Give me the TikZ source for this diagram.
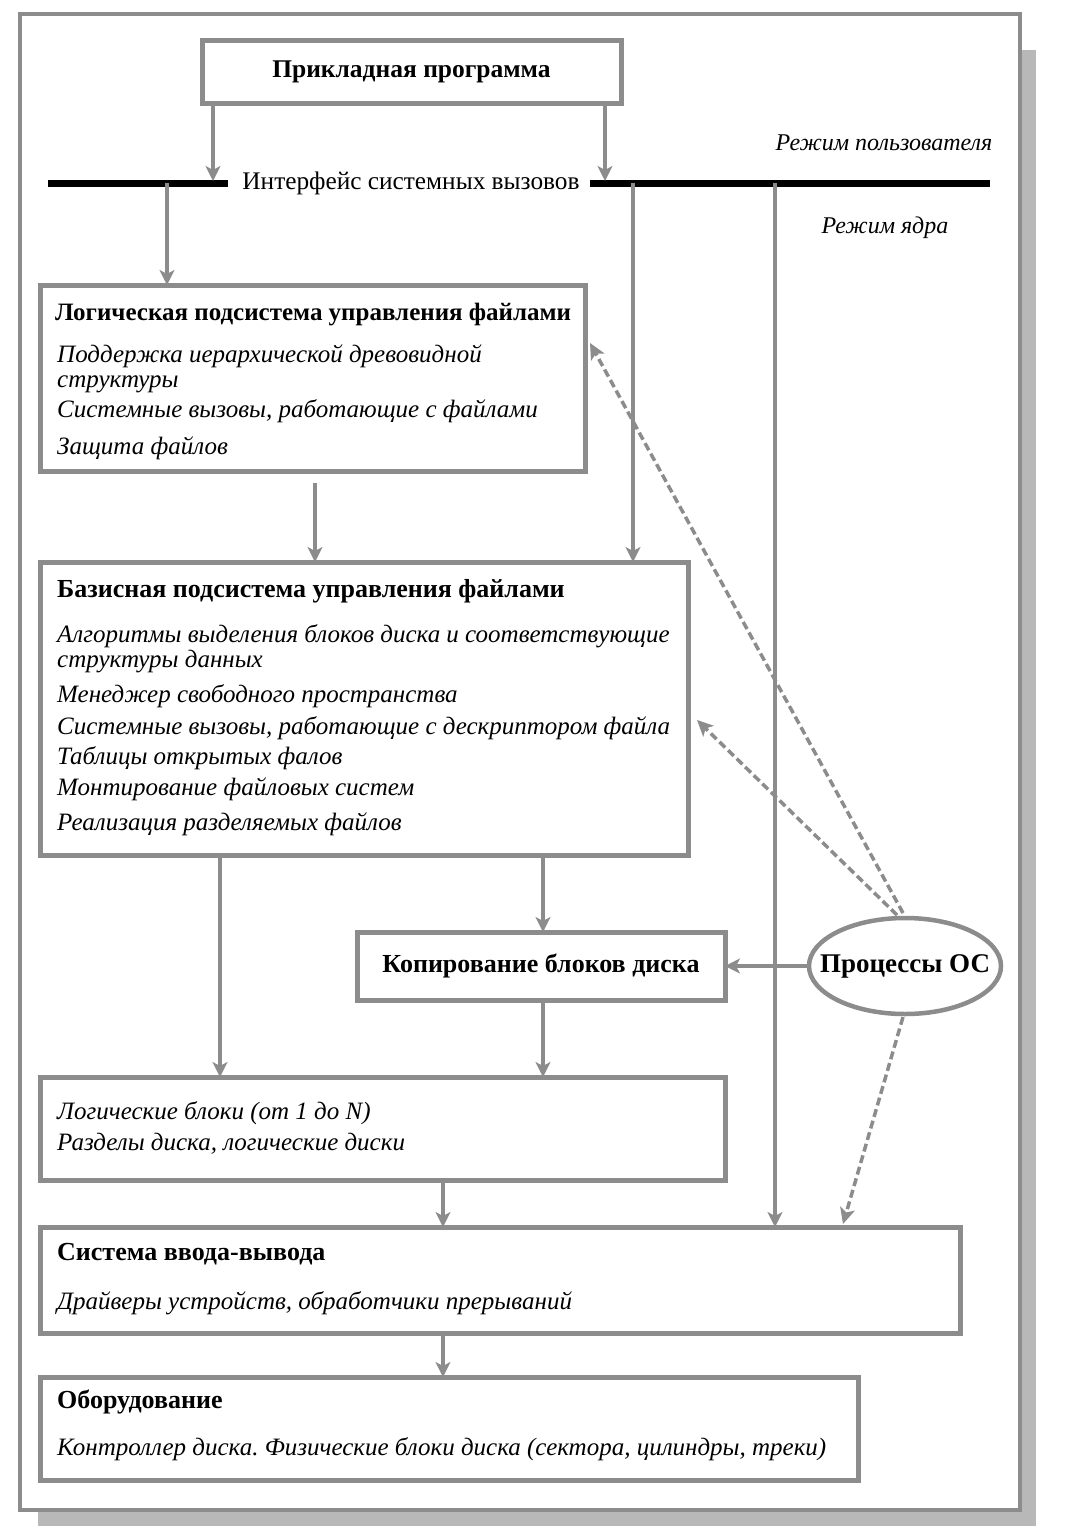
\documentclass[tikz,border=0pt]{standalone}
\usepackage{fontspec}
\setmainfont{Liberation Serif}
\usetikzlibrary{arrows.meta,shapes.geometric}
\definecolor{lg}{HTML}{8C8C8C}
\definecolor{sh}{HTML}{B8B8B8}
\frenchspacing
\begin{document}
\begin{tikzpicture}[x=1pt,y=-1pt,
  box/.style={draw=lg, line width=5pt, fill=white, inner sep=0pt, outer sep=0pt, anchor=north west},
  conn/.style={draw=lg, line width=4pt, -{Stealth[length=15pt,width=15pt,inset=4pt]}},
  dconn/.style={draw=lg, line width=3.5pt, dash pattern=on 8pt off 4pt, -{Stealth[length=16pt,width=15pt,inset=4pt]}},
  ttl/.style={anchor=base west, font=\fontsize{26}{30}\selectfont\bfseries, inner sep=0pt},
  itm/.style={anchor=base west, font=\fontsize{25}{28}\selectfont\itshape, inner sep=0pt},
  mode/.style={font=\fontsize{24}{28}\selectfont\itshape, inner sep=0pt},
  bus/.style={line width=7pt, black}
]
\useasboundingbox (0,0) rectangle (1070,1526);
% frame with shadow
\fill[sh] (1022,50) rectangle (1036,1526);
\fill[sh] (38,1512) rectangle (1036,1526);
\draw[lg, line width=4.5pt] (20,14) rectangle (1020,1510);

% boxes
\node[box, minimum width=419pt, minimum height=63pt] (app) at (202,40) {};
\node[font=\fontsize{25.5}{28}\selectfont\bfseries] (apptxt) at (app.center) {Прикладная программа};

\node[box, minimum width=545pt, minimum height=186pt] (logic) at (40,285) {};
\node[box, minimum width=648pt, minimum height=293pt] (basic) at (40,562) {};
\node[box, minimum width=368pt, minimum height=68pt] (copy) at (357,932) {};
\node[font=\fontsize{26}{30}\selectfont\bfseries] (copytxt) at (copy.center) {Копирование блоков диска};
\node[box, minimum width=685pt, minimum height=103pt] (lblk) at (40,1077) {};
\node[box, minimum width=920pt, minimum height=106pt] (io) at (40,1227) {};
\node[box, minimum width=818pt, minimum height=103pt] (hw) at (40,1377) {};
\node[draw=lg, line width=4.5pt, ellipse, minimum width=192pt, minimum height=96pt, inner sep=0pt] (procs) at (905,966) {};
\node[font=\fontsize{27}{30}\selectfont\bfseries, inner sep=0pt] (procstxt) at (procs.center) {Процессы ОС};

% texts
\node[ttl, font=\fontsize{25}{30}\selectfont\bfseries] (lt) at (55,320) {Логическая подсистема управления файлами};
\node[itm] (l1) at (57,362) {Поддержка иерархической древовидной};
\node[itm] (l1b) at (57,387) {структуры};
\node[itm] (l2) at (57,417) {Системные вызовы, работающие с файлами};
\node[itm] (l3) at (57,454) {Защита файлов};

\node[ttl] (bt) at (57,597) {Базисная подсистема управления файлами};
\node[itm] (b1) at (57,642) {Алгоритмы выделения блоков диска и соответствующие};
\node[itm] (b1b) at (57,667) {структуры данных};
\node[itm] (b2) at (57,702) {Менеджер свободного пространства};
\node[itm] (b3) at (57,734) {Системные вызовы, работающие с дескриптором файла};
\node[itm] (b4) at (57,764) {Таблицы открытых фалов};
\node[itm] (b5) at (57,795) {Монтирование файловых систем};
\node[itm] (b6) at (57,830) {Реализация разделяемых файлов};

\node[itm] (k1) at (57,1119) {Логические блоки (от 1 до N)};
\node[itm] (k2) at (57,1150) {Разделы диска, логические диски};

\node[ttl] (it) at (57,1260) {Система ввода-вывода};
\node[itm] (i1) at (57,1309) {Драйверы устройств, обработчики прерываний};

\node[ttl] (ht) at (57,1408) {Оборудование};
\node[itm] (h1) at (57,1455) {Контроллер диска. Физические блоки диска (сектора, цилиндры, треки)};

% system call interface
\coordinate (busL1) at (48,183);
\coordinate (busL2) at (228,183);
\coordinate (busR1) at (590,183);
\coordinate (busR2) at (990,183);
\draw[bus] (busL1) -- (busL2);
\draw[bus] (busR1) -- (busR2);
\node[font=\fontsize{25.3}{28}\selectfont, inner sep=0pt] (ifc) at (411,183) {Интерфейс системных вызовов};
\node[mode] (um) at (884,143) {Режим пользователя};
\node[mode] (km) at (885,228) {Режим ядра};

% connectors
\coordinate (a1) at (213,181);
\coordinate (a2) at (605,181);
\draw[conn] (app.south -| a1) -- (a1);
\draw[conn] (app.south -| a2) -- (a2);
\coordinate (b1s) at (167,183);
\coordinate (b2s) at (633,183);
\coordinate (b3s) at (775,183);
\draw[conn] (b1s) -- (b1s |- logic.north);
\draw[conn] (b2s) -- (b2s |- basic.north);
\draw[conn] (b3s) -- (b3s |- io.north);
\coordinate (c1) at (315,483);
\draw[conn] (c1) -- (c1 |- basic.north);
\coordinate (c2) at (220,0);
\coordinate (c3) at (543,0);
\draw[conn] (basic.south -| c2) -- (c2 |- lblk.north);
\draw[conn] (basic.south -| c3) -- (c3 |- copy.north);
\draw[conn] (copy.south -| c3) -- (c3 |- lblk.north);
\coordinate (c4) at (443,0);
\draw[conn] (lblk.south -| c4) -- (c4 |- io.north);
\draw[conn] (io.south -| c4) -- (c4 |- hw.north);
\draw[conn] (procs.west) -- (procs.west -| copy.east);

\coordinate (d1) at (903,913);
\coordinate (d2) at (897,915);
\coordinate (e1) at (590,343);
\coordinate (e2) at (697,720);
\draw[dconn] (d1) -- (e1);
\draw[dconn] (d2) -- (e2);
\coordinate (f1) at (903,1017);
\coordinate (f2) at (843,1224);
\draw[dconn] (f1) -- (f2);
\end{tikzpicture}
\end{document}
